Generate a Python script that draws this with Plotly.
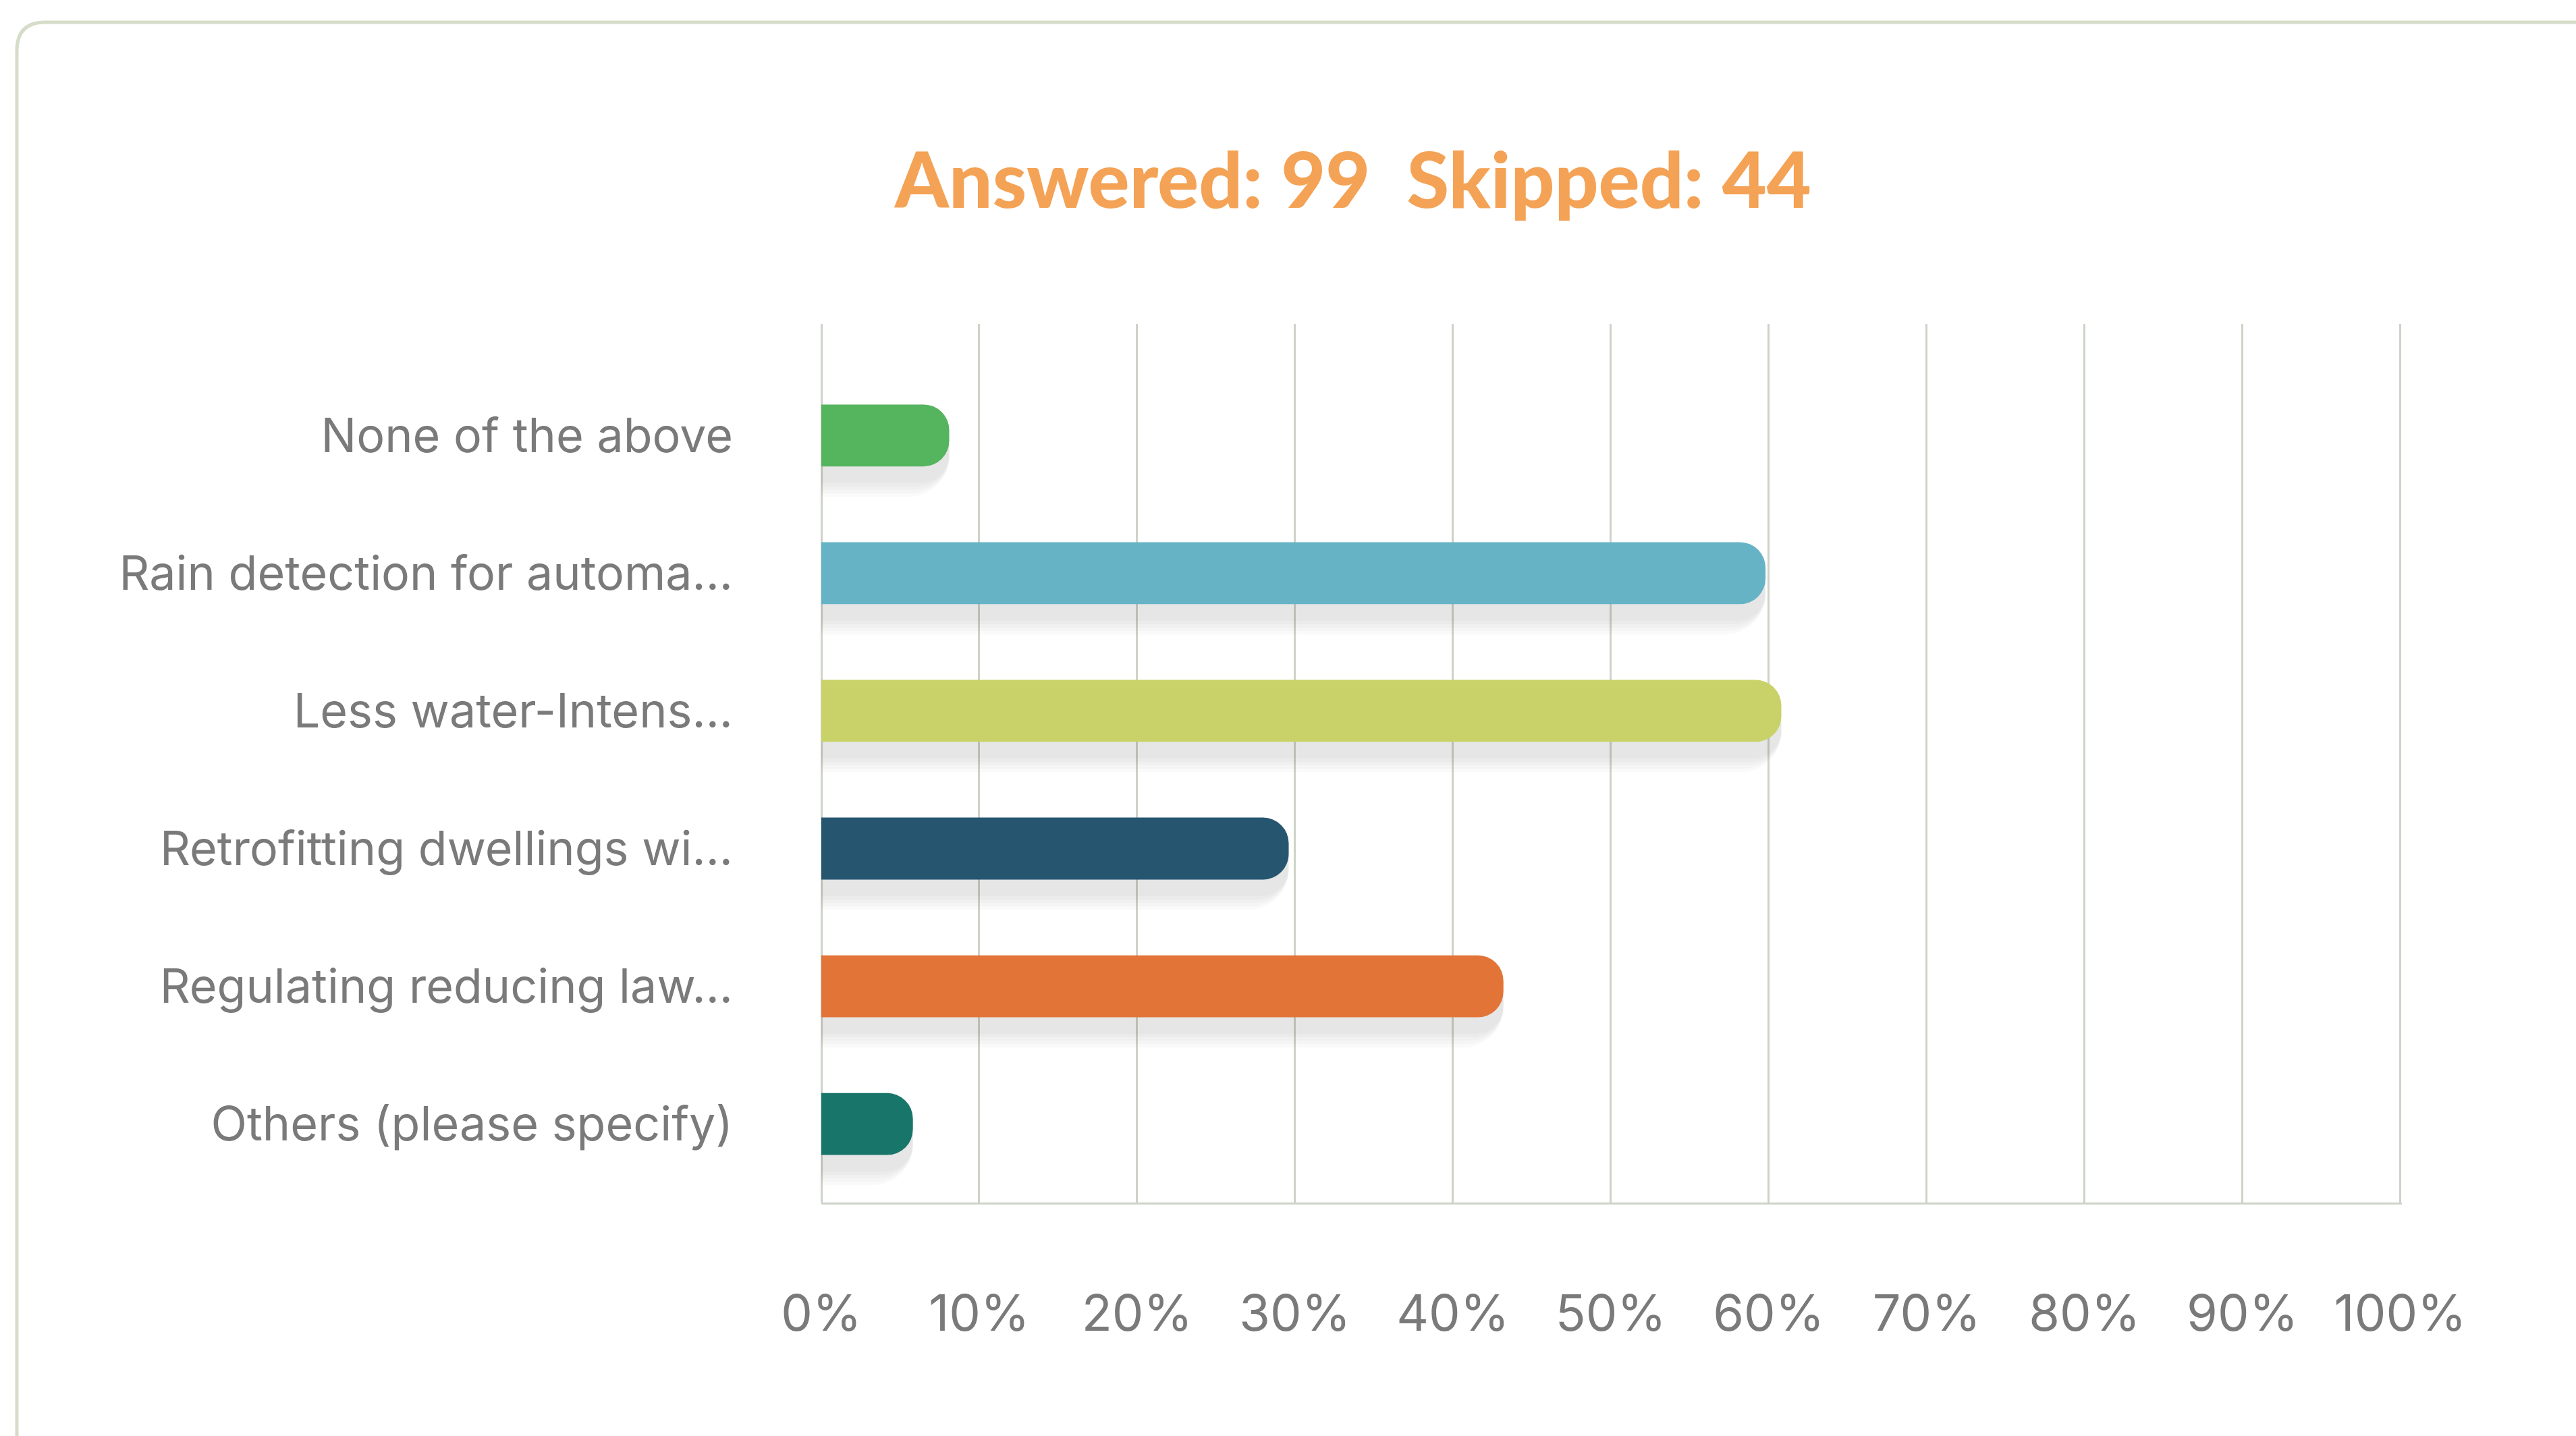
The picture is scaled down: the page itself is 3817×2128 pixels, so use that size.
import plotly.graph_objects as go

# ---- data ----
categories = [
    "None of the above",
    "Rain detection for automa...",
    "Less water-Intens...",
    "Retrofitting dwellings wi...",
    "Regulating reducing law...",
    "Others (please specify)",
]
values = [8.1, 59.8, 60.8, 29.6, 43.2, 5.8]
bar_colors = ["#55b45e", "#66b3c6", "#c9d268", "#265570", "#e27438", "#18756a"]
tick_values = [0, 10, 20, 30, 40, 50, 60, 70, 80, 90, 100]
tick_labels = ["0%", "10%", "20%", "30%", "40%", "50%", "60%", "70%", "80%", "90%", "100%"]
answered = 99
skipped = 44

W, H = 3817, 2128
L, R, T, B = 1217, 3817 - 3559, 480, 2128 - 1782
pw, ph = W - L - R, H - T - B

fig = go.Figure()

bw = 0.45
# soft drop shadows
for k in range(5):
    w = bw + 0.05 * k
    fig.add_trace(go.Bar(
        x=values, y=categories, orientation="h",
        width=w, offset=-w / 2 + 0.12,
        marker=dict(color="rgba(70,70,90,0.028)", line=dict(width=0), cornerradius="45%"),
        hoverinfo="skip", showlegend=False,
    ))

fig.add_trace(go.Bar(
    x=values, y=categories, orientation="h",
    width=bw,
    marker=dict(color=bar_colors, line=dict(width=0), cornerradius="42%"),
    showlegend=False,
    hovertemplate="%{y}: %{x:.1f}%<extra></extra>",
))

# card border (top-left rounded corner), in paper coords
def px(x):
    return (x - L) / pw

def py(y):
    return (H - B - y) / ph

x0, y0, r = 25, 33, 42
path = (f"M {px(x0)},{py(H + 50)} L {px(x0)},{py(y0 + r)} "
        f"Q {px(x0)},{py(y0)} {px(x0 + r)},{py(y0)} L {px(W + 50)},{py(y0)}")
fig.add_shape(type="path", path=path, xref="paper", yref="paper",
              line=dict(color="#d5ddc9", width=5), layer="below")

fig.update_layout(
    width=W, height=H,
    margin=dict(l=L, r=R, t=T, b=B),
    paper_bgcolor="white", plot_bgcolor="white",
    barmode="overlay",
    title=dict(
        text=f"Answered: {answered}&nbsp;&nbsp;Skipped: {skipped}",
        x=2005 / W, xref="container", xanchor="center",
        y=1 - 268 / H, yref="container", yanchor="middle",
        font=dict(family="Lato", size=114, color="#f4a255", weight=900),
    ),
    xaxis=dict(
        range=[0, 100.1], tickvals=tick_values, ticktext=tick_labels,
        showgrid=True, gridcolor="#cdd3c6", gridwidth=3,
        zeroline=True, zerolinecolor="#cdd3c6", zerolinewidth=3,
        showline=True, linecolor="#cdd3c6", linewidth=3,
        ticks="", ticklabelstandoff=98,
        tickfont=dict(family="Inter", size=74, color="#7a7a7a"),
        fixedrange=True,
    ),
    yaxis=dict(
        type="category", categoryorder="array", categoryarray=categories,
        range=[5.57, -0.81],
        showgrid=False, zeroline=False, showline=False, ticks="",
        ticklabelstandoff=130,
        tickfont=dict(family="Inter", size=70, color="#7a7a7a"),
        fixedrange=True,
    ),
)

fig.write_html("out.html")
